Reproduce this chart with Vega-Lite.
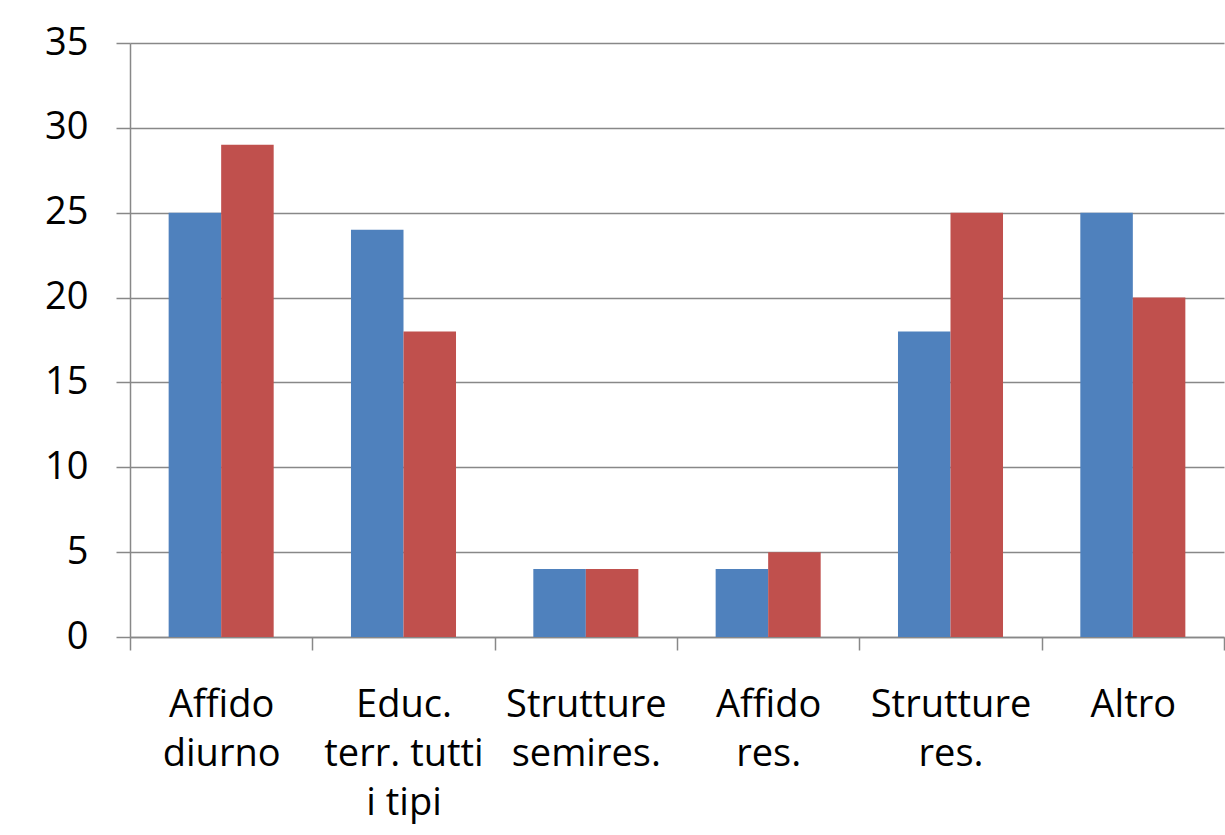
{
  "$schema": "https://vega.github.io/schema/vega-lite/v6.json",
  "width": 1094,
  "height": 594,
  "autosize": {"type": "none"},
  "padding": {"left": 130, "top": 43, "right": 1, "bottom": 198},
  "background": "white",
  "config": {
    "view": {"stroke": null},
    "font": "Open Sans"
  },
  "data": {
    "values": [
      {"categoria": "Affido|diurno", "serie": "A", "valore": 25},
      {"categoria": "Affido|diurno", "serie": "B", "valore": 29},
      {"categoria": "Educ.|terr. tutti|i tipi", "serie": "A", "valore": 24},
      {"categoria": "Educ.|terr. tutti|i tipi", "serie": "B", "valore": 18},
      {"categoria": "Strutture|semires.", "serie": "A", "valore": 4},
      {"categoria": "Strutture|semires.", "serie": "B", "valore": 4},
      {"categoria": "Affido|res.", "serie": "A", "valore": 4},
      {"categoria": "Affido|res.", "serie": "B", "valore": 5},
      {"categoria": "Strutture|res.", "serie": "A", "valore": 18},
      {"categoria": "Strutture|res.", "serie": "B", "valore": 25},
      {"categoria": "Altro", "serie": "A", "valore": 25},
      {"categoria": "Altro", "serie": "B", "valore": 20}
    ]
  },
  "mark": {"type": "bar"},
  "encoding": {
    "x": {
      "field": "categoria",
      "type": "nominal",
      "sort": null,
      "scale": {"paddingInner": 0, "paddingOuter": 0},
      "axis": {
        "title": null,
        "labelAngle": 0,
        "labelExpr": "split(datum.label, '|')",
        "labelFont": "Open Sans",
        "labelFontSize": 38,
        "labelLineHeight": 49,
        "labelColor": "black",
        "labelPadding": 36,
        "tickBand": "extent",
        "tickSize": 13,
        "tickColor": "#888888",
        "tickWidth": 1.5,
        "domainColor": "#888888",
        "domainWidth": 1.5,
        "grid": false
      }
    },
    "xOffset": {"field": "serie", "type": "nominal", "scale": {"paddingInner": 0, "paddingOuter": 0.736}},
    "y": {
      "field": "valore",
      "type": "quantitative",
      "scale": {"domain": [0, 35], "nice": false},
      "axis": {
        "title": null,
        "values": [0, 5, 10, 15, 20, 25, 30, 35],
        "labelFont": "Open Sans",
        "labelFontSize": 38,
        "labelColor": "black",
        "labelPadding": 28,
        "tickSize": 14,
        "tickColor": "#888888",
        "tickWidth": 1.5,
        "domainColor": "#888888",
        "domainWidth": 1.5,
        "gridColor": "#888888",
        "gridWidth": 1.5
      }
    },
    "color": {
      "field": "serie",
      "type": "nominal",
      "scale": {"domain": ["A", "B"], "range": ["#4F81BD", "#C0504D"]},
      "legend": null
    }
  }
}
